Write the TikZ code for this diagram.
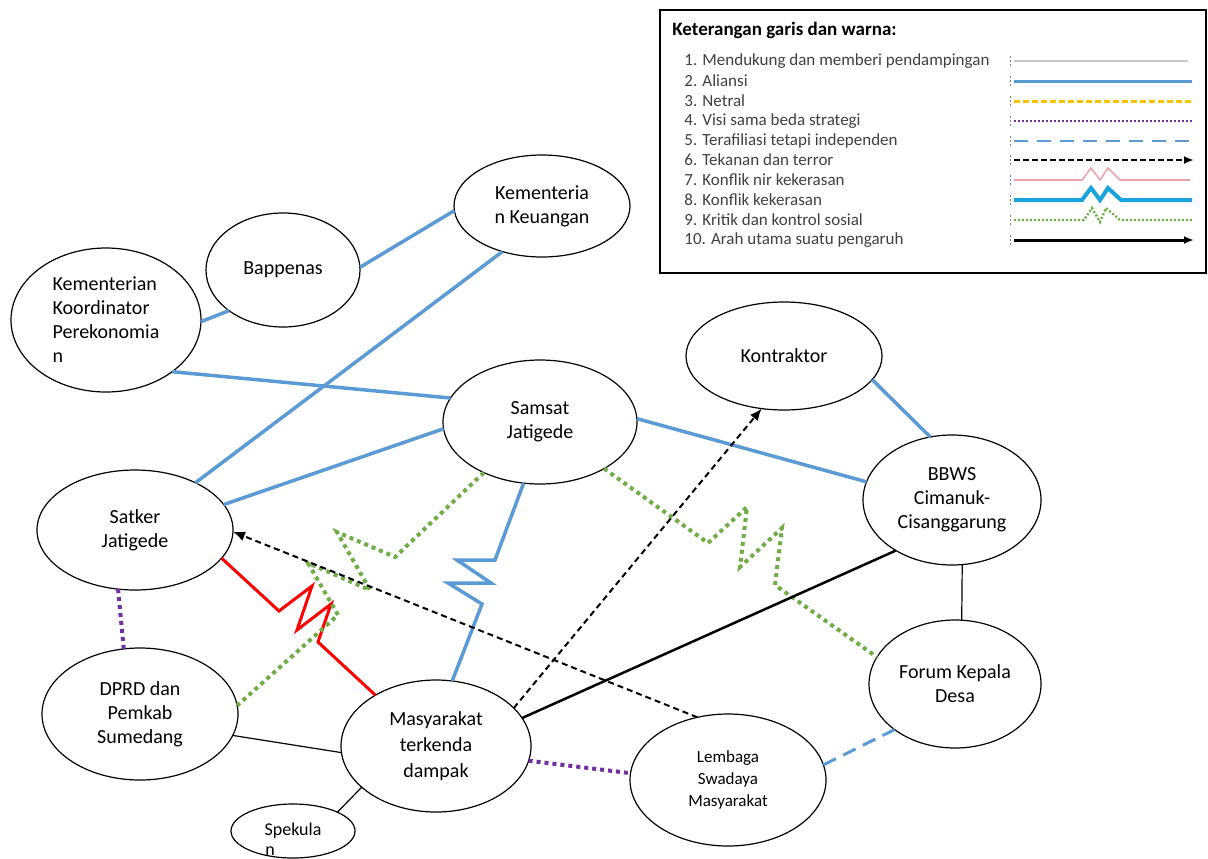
\documentclass[tikz,border=0pt]{standalone}
\usepackage{fontspec}
\setmainfont{Carlito}
\usetikzlibrary{shapes.geometric,arrows.meta}
\definecolor{aliblue}{HTML}{5B9BD5}
\definecolor{kritgreen}{HTML}{70AD47}
\definecolor{visipurple}{HTML}{7030A0}
\definecolor{netgold}{HTML}{FFC000}
\definecolor{konpink}{HTML}{E8A3AD}
\definecolor{koncyan}{HTML}{1AA3DC}
\definecolor{ketgray}{HTML}{404040}
\definecolor{dukgray}{HTML}{C8C8C8}
\begin{document}
\begin{tikzpicture}[x=0.5pt,y=-0.5pt,
  aktor/.style={ellipse,draw,line width=0.6pt,inner sep=0pt,outer sep=0pt,align=center,font=\fontsize{10}{12}\selectfont},
  aliansi/.style={aliblue,line width=1.75pt},
  kritik/.style={kritgreen,line width=2pt,dash pattern=on 2pt off 2pt},
  visi/.style={visipurple,line width=2pt,dash pattern=on 2pt off 2pt},
  afiliasi/.style={aliblue,line width=1.5pt,dash pattern=on 7pt off 4pt},
  tekanan/.style={black,line width=1pt,dash pattern=on 3pt off 2pt,-{Latex[length=6pt,width=5pt]}},
  kekerasan/.style={red,line width=1.5pt},
  utama/.style={black,line width=1.25pt},
  biasa/.style={black,line width=0.6pt},
  ket/.style={anchor=west,inner sep=0pt,text=ketgray,font=\fontsize{8.5}{10}\selectfont},
  tanda/.style={gray,line width=0.5pt,dash pattern=on 1pt off 1pt}]
\useasboundingbox (0,0) rectangle (1208,858);

\node[aktor,minimum width=95pt,minimum height=72pt,align=left] (kkp) at (106,320) {Kementerian\\Koordinator\\Perekonomia\\n};
\node[aktor,minimum width=77pt,minimum height=57pt] (bap) at (283,270) {Bappenas};
\node[aktor,minimum width=88pt,minimum height=51pt] (keu) at (542,206) {Kementeria\\n Keuangan};
\node[aktor,minimum width=98pt,minimum height=54pt] (kon) at (784,356) {Kontraktor};
\node[aktor,minimum width=97pt,minimum height=62pt] (sam) at (540,422) {Samsat\\Jatigede};
\node[aktor,minimum width=89pt,minimum height=65pt] (bbws) at (952,500) {BBWS\\Cimanuk-\\Cisanggarung};
\node[aktor,minimum width=98pt,minimum height=60pt] (sat) at (135,530) {Satker\\Jatigede};
\node[aktor,minimum width=98pt,minimum height=66pt] (dprd) at (140,714) {DPRD dan\\Pemkab\\Sumedang};
\node[aktor,minimum width=95pt,minimum height=66pt,font=\fontsize{10}{13}\selectfont] (masy) at (436,746) {Masyarakat\\terkenda\\dampak};
\node[aktor,minimum width=98pt,minimum height=66pt,font=\fontsize{8.5}{11}\selectfont] (lsm) at (728,780) {Lembaga\\Swadaya\\Masyarakat};
\node[aktor,minimum width=86pt,minimum height=64pt] (forum) at (955,684) {Forum Kepala\\Desa};
\node[aktor,minimum width=62pt,minimum height=27pt,font=\fontsize{9}{11}\selectfont] (spek) at (293,831) {Spekula};
\node[anchor=base west,inner sep=0pt,font=\fontsize{9}{11}\selectfont] (spekn) at (265,855) {n};

\draw[aliansi] (kkp.-1) -- (bap.217);
\draw[aliansi] (bap.2) -- (keu.183);
\draw[aliansi] (sat.38) -- (keu.229);
\draw[aliansi] (kkp.-38) -- (sam.165);
\draw[aliansi] (sat.16) -- (sam.184);
\draw[aliansi] (sam.2) -- (bbws.168);
\draw[aliansi] (kon.-15) -- (bbws.109);
\draw[aliansi] (sam.255) -- (495,560) -- (457,560) -- (491,583) -- (448,583) -- (482,604) -- (masy.76);

\draw[kekerasan] (sat.-18) -- (279,611) -- (312,586) -- (297,630) -- (331,604) -- (318,642) -- (masy.140);

\draw[kritik] (sam.222) -- (395,557) -- (337,532) -- (370,590) -- (308,563) -- (338,615) -- (dprd.5);
\draw[kritik] (sam.-36) -- (708,543) -- (747,507) -- (740,567) -- (782,528) -- (775,585) -- (forum.161);

\draw[visi] (sat.-106) -- (dprd.104);
\draw[visi] (masy.-9) -- (lsm.176);
\draw[afiliasi] (lsm.9) -- (forum.217);

\draw[biasa] (dprd.-13) -- (masy.184);
\draw[biasa] (masy.209) -- (spek.23);
\draw[biasa] (bbws.-81) -- (forum.84);
\draw[utama] (masy.18) -- (bbws.222);

\draw[tekanan] (lsm.116) -- (sat.-1);
\draw[tekanan] (masy.26) -- (kon.247);

\draw[line width=0.8pt] (660,10) rectangle (1206,273);
\node[anchor=west,inner sep=0pt,font=\fontsize{9.5}{11}\selectfont\bfseries] (ketjudul) at (672,30) {Keterangan garis dan warna:};
\node[ket] (k1) at (684,61) {1. Mendukung dan memberi pendampingan};
\node[ket] (k2) at (684,81) {2. Aliansi};
\node[ket] (k3) at (684,101) {3. Netral};
\node[ket] (k4) at (684,121) {4. Visi sama beda strategi};
\node[ket] (k5) at (684,141) {5. Terafiliasi tetapi independen};
\node[ket] (k6) at (684,160) {6. Tekanan dan terror};
\node[ket] (k7) at (684,180) {7. Konflik nir kekerasan};
\node[ket] (k8) at (684,200) {8. Konflik kekerasan};
\node[ket] (k9) at (684,220) {9. Kritik dan kontrol sosial};
\node[ket] (k10) at (684,240) {10. Arah utama suatu pengaruh};

\draw[tanda] (1010,56) -- (1010,66);
\draw[tanda] (1010,76) -- (1010,86);
\draw[tanda] (1010,96) -- (1010,106);
\draw[tanda] (1010,116) -- (1010,126);
\draw[tanda] (1010,136) -- (1010,146);
\draw[tanda] (1010,155) -- (1010,165);
\draw[tanda] (1010,175) -- (1010,185);
\draw[tanda] (1010,195) -- (1010,205);
\draw[tanda] (1010,215) -- (1010,225);
\draw[tanda] (1010,235) -- (1010,245);

\draw[dukgray,line width=1.2pt] (1014,61) -- (1188,61);
\draw[aliblue,line width=1.5pt] (1014,81) -- (1192,81);
\draw[netgold,line width=1.5pt,dash pattern=on 3pt off 1.5pt] (1014,101) -- (1192,101);
\draw[visipurple,line width=1.2pt,dash pattern=on 1pt off 1pt] (1014,121) -- (1192,121);
\draw[aliblue,line width=1pt,dash pattern=on 7pt off 4.5pt] (1014,141) -- (1192,141);
\draw[black,line width=1pt,dash pattern=on 3pt off 1.5pt,-{Latex[length=5pt,width=4pt]}] (1014,160) -- (1194,160);
\draw[konpink,line width=0.8pt] (1014,180) -- (1082,180) -- (1091,168) -- (1100,180) -- (1108,168) -- (1120,180) -- (1190,180);
\draw[koncyan,line width=2pt] (1014,200) -- (1082,200) -- (1091,188) -- (1100,200) -- (1108,188) -- (1121,200) -- (1192,200);
\draw[kritgreen,line width=1.2pt,dash pattern=on 1pt off 1pt] (1014,220) -- (1084,220) -- (1092,208) -- (1100,222) -- (1106,208) -- (1120,220) -- (1192,220);
\draw[black,line width=1.5pt,-{Latex[length=5pt,width=4pt]}] (1014,240) -- (1194,240);
\end{tikzpicture}
\end{document}
